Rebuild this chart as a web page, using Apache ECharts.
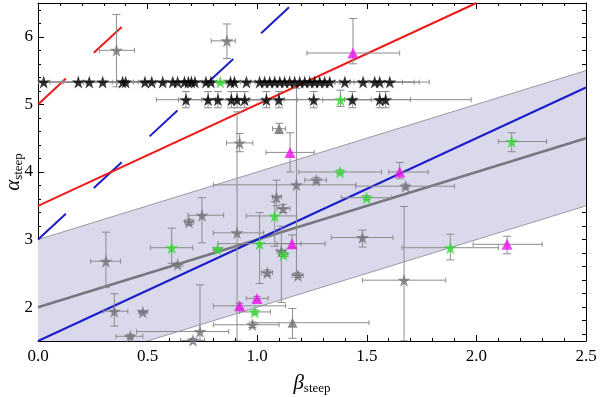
<!DOCTYPE html>
<html>
<head>
<meta charset="utf-8">
<script src="https://cdn.jsdelivr.net/npm/echarts@6/dist/echarts.min.js"></script>
<style>
  html, body { margin: 0; padding: 0; background: #fff; }
  #chart { width: 600px; height: 397px; }
</style>
</head>
<body>
<div id="chart"></div>
<script>
// every point: [x, y, xLow, xHigh, yLow, yHigh]
var grayStars = [
  [0.358, 5.80, 0.28, 0.44, 5.26, 6.33],
  [0.862, 5.94, 0.79, 0.90, 5.68, 6.19],
  [0.920, 4.43, 0.86, 0.98, 4.30, 4.57],
  [1.270, 3.88, 1.217, 1.316, 3.84, 3.92],
  [1.179, 3.81, 0.80, 1.45, 2.50, 5.24],
  [1.677, 3.79, 1.45, 1.90, 3.76, 3.82],
  [1.088, 3.63, 1.07, 1.11, 3.50, 3.88],
  [1.118, 3.46, 1.09, 1.15, 3.40, 3.52],
  [0.748, 3.36, 0.684, 0.847, 2.95, 3.62],
  [0.689, 3.26, 0.67, 0.71, 3.22, 3.30],
  [0.908, 3.10, 0.80, 1.03, 1.50, 4.89],
  [1.480, 3.03, 1.338, 1.62, 2.89, 3.14],
  [0.310, 2.68, 0.24, 0.376, 2.29, 3.11],
  [0.637, 2.63, 0.61, 0.66, 2.60, 2.66],
  [1.110, 2.83, 1.09, 1.13, 2.07, 3.20],
  [1.046, 2.51, 1.02, 1.07, 2.47, 2.55],
  [1.186, 2.47, 1.16, 1.21, 2.44, 2.51],
  [1.670, 2.40, 1.48, 1.86, 1.50, 3.49],
  [0.348, 1.94, 0.30, 0.41, 1.72, 2.20],
  [0.478, 1.93, 0.46, 0.50, 1.91, 1.95],
  [0.421, 1.57, 0.356, 0.478, 1.54, 1.60],
  [0.739, 1.64, 0.45, 0.87, 1.50, 2.33],
  [0.978, 1.74, 0.80, 1.10, 1.70, 1.78],
  [0.707, 1.51, 0.65, 0.76, 1.48, 1.54]
];
var grayTriangles = [
  [1.100, 4.64, 1.07, 1.13, 4.57, 4.72],
  [1.161, 1.77, 0.98, 1.51, 1.54, 1.98]
];
var greenStars = [
  [0.832, 5.33, 0.80, 0.86, 5.33, 5.33],
  [1.380, 5.07, 1.24, 1.52, 4.97, 5.21],
  [0.610, 2.88, 0.513, 0.706, 2.65, 3.17],
  [0.820, 2.86, 0.80, 0.84, 2.84, 2.88],
  [1.011, 2.94, 0.82, 1.31, 2.35, 3.40],
  [1.080, 3.35, 0.95, 1.18, 2.90, 3.56],
  [1.120, 2.78, 1.10, 1.14, 2.75, 2.81],
  [0.989, 1.93, 0.92, 1.06, 1.90, 1.96],
  [1.378, 4.00, 1.19, 1.567, 3.97, 4.03],
  [1.499, 3.62, 1.384, 1.612, 3.59, 3.65],
  [1.881, 2.88, 1.66, 2.10, 2.70, 3.08],
  [2.161, 4.45, 2.10, 2.32, 4.30, 4.58]
];
var magentaTriangles = [
  [1.437, 5.76, 1.227, 1.65, 5.60, 6.27],
  [1.150, 4.29, 1.04, 1.26, 4.00, 4.58],
  [1.650, 4.00, 1.60, 1.78, 3.90, 4.14],
  [1.159, 2.94, 1.09, 1.20, 2.88, 3.07],
  [0.999, 2.13, 0.95, 1.05, 2.10, 2.16],
  [0.920, 2.02, 0.80, 1.13, 1.98, 2.06],
  [2.140, 2.93, 1.985, 2.30, 2.79, 3.05]
];
// two rows of black stars
var blackTopY = 5.33;
var blackTopX = [0.026, 0.184, 0.234, 0.295, 0.386, 0.40, 0.488, 0.519, 0.569, 0.615,
  0.637, 0.668, 0.686, 0.70, 0.716, 0.766, 0.789, 0.878, 0.896, 0.951, 1.011, 1.034,
  1.057, 1.080, 1.103, 1.125, 1.148, 1.171, 1.194, 1.217, 1.24, 1.262, 1.285, 1.308,
  1.331, 1.40, 1.483, 1.536, 1.559, 1.605];
var blackTopErr = 0.18;
var blackLowY = 5.07;
var blackLowX = [0.675, 0.776, 0.821, 0.882, 0.908, 0.943, 1.042, 1.099, 1.258, 1.434, 1.559, 1.586];
var blackLowXErr = [0.135, 0.14, 0.14, 0.14, 0.14, 0.14, 0.14, 0.14, 0.14, 0.14, 0.14, 0.39];
var blackLowYErr = 0.12;

// band [x, lower, upper] and lines
var band = [[0, 1.0, 3.0], [2.5, 3.5, 5.5]];
var grayFit = [[0, 2.0], [2.5, 4.5]];
var blueLine = [[0, 1.5], [2.5, 5.25]];
var blueDashed = [[0, 3.0], [1.1667, 6.5]];
var redLine = [[0, 3.5], [2.0, 6.5]];
var redDashed = [[0, 5.0], [0.5, 6.5]];

// y ticks
var yLabels = [2, 3, 4, 5, 6];
var yMinor = [1.6, 1.8, 2.2, 2.4, 2.6, 2.8, 3.2, 3.4, 3.6, 3.8, 4.2, 4.4, 4.6, 4.8,
  5.2, 5.4, 5.6, 5.8, 6.2, 6.4];

var STAR = 'path://M50,0 L61,35 L98,35 L68,57 L79,91 L50,70 L21,91 L32,57 L2,35 L39,35 Z';
var SERIF = '"Liberation Serif", "DejaVu Serif", serif';

var blackTop = blackTopX.map(function (x) {
  return [x, blackTopY, x - blackTopErr, x + blackTopErr, blackTopY, blackTopY];
});
var blackLow = blackLowX.map(function (x, i) {
  return [x, blackLowY, x - 0.135, x + blackLowXErr[i], blackLowY - blackLowYErr, blackLowY + blackLowYErr];
});
var allErr = [].concat(blackTop, blackLow, grayStars, grayTriangles, greenStars, magentaTriangles);

function errorItem(params, api) {
  var x = api.value(0), y = api.value(1);
  var c = api.coord([x, y]);
  var l = api.coord([api.value(2), y]);
  var r = api.coord([api.value(3), y]);
  var lo = api.coord([x, api.value(4)]);
  var hi = api.coord([x, api.value(5)]);
  var st = { stroke: '#8c8c8c', lineWidth: 1 };
  var kids = [];
  if (r[0] - l[0] > 1) {
    kids.push({ type: 'line', shape: { x1: l[0], y1: c[1], x2: r[0], y2: c[1] }, style: st });
    kids.push({ type: 'line', shape: { x1: l[0], y1: c[1] - 2.5, x2: l[0], y2: c[1] + 2.5 }, style: st });
    kids.push({ type: 'line', shape: { x1: r[0], y1: c[1] - 2.5, x2: r[0], y2: c[1] + 2.5 }, style: st });
  }
  if (lo[1] - hi[1] > 1) {
    kids.push({ type: 'line', shape: { x1: c[0], y1: lo[1], x2: c[0], y2: hi[1] }, style: st });
    kids.push({ type: 'line', shape: { x1: c[0] - 4, y1: lo[1], x2: c[0] + 4, y2: lo[1] }, style: st });
    kids.push({ type: 'line', shape: { x1: c[0] - 4, y1: hi[1], x2: c[0] + 4, y2: hi[1] }, style: st });
  }
  return { type: 'group', children: kids };
}

function bandItem(params, api) {
  var p0 = api.coord([api.value(0), api.value(1)]);
  var p1 = api.coord([api.value(3), api.value(4)]);
  var p2 = api.coord([api.value(3), api.value(5)]);
  var p3 = api.coord([api.value(0), api.value(2)]);
  var edge = { stroke: '#9a9aa6', lineWidth: 1 };
  return {
    type: 'group',
    children: [
      { type: 'polygon', shape: { points: [p0, p1, p2, p3] }, style: { fill: '#d9d9eb' } },
      { type: 'line', shape: { x1: p0[0], y1: p0[1], x2: p1[0], y2: p1[1] }, style: edge },
      { type: 'line', shape: { x1: p3[0], y1: p3[1], x2: p2[0], y2: p2[1] }, style: edge }
    ]
  };
}

function lineSeries(data, color, width, type) {
  return {
    type: 'line', data: data, showSymbol: false, clip: true, z: 3,
    lineStyle: { color: color, width: width, type: type || 'solid' },
    silent: true
  };
}

function pts(arr) { return arr.map(function (d) { return [d[0], d[1]]; }); }

var tickStyle = { color: '#000', width: 1 };
var nameRich = {
  g: { fontFamily: SERIF, fontStyle: 'italic', fontSize: 21, color: '#000', lineHeight: 24 },
  s: { fontFamily: SERIF, fontSize: 13, color: '#000', verticalAlign: 'bottom', lineHeight: 14 }
};
function xAx(pos, labels) {
  return {
    type: 'value', min: 0, max: 2.5, interval: 0.5, position: pos,
    axisLine: { show: true, onZero: false, lineStyle: tickStyle },
    axisTick: { show: true, inside: true, length: 6, lineStyle: tickStyle },
    minorTick: { show: true, splitNumber: 5, length: 3, lineStyle: tickStyle },
    splitLine: { show: false },
    axisLabel: {
      show: labels, formatter: function (v) { return v.toFixed(1); },
      fontFamily: SERIF, fontSize: 17, color: '#000', margin: 7
    },
    name: labels ? '{g|β}{s|steep}' : '',
    nameLocation: 'middle', nameGap: 30,
    nameTextStyle: { rich: nameRich }
  };
}
function yAx(pos, labels, ticks, len, line) {
  return {
    type: 'value', min: 1.5, max: 6.5, position: pos,
    axisLine: { show: line, onZero: false, lineStyle: tickStyle },
    axisTick: { show: true, inside: true, length: len, customValues: ticks, lineStyle: tickStyle },
    splitLine: { show: false },
    axisLabel: {
      show: labels, customValues: yLabels,
      fontFamily: SERIF, fontSize: 17, color: '#000', margin: 5
    }
  };
}

var chart = echarts.init(document.getElementById('chart'), null, { renderer: 'canvas' });
chart.setOption({
  animation: false,
  backgroundColor: '#fff',
  grid: { left: 38, right: 14, top: 3, bottom: 56, containLabel: false, outerBoundsMode: 'none' },
  xAxis: [xAx('bottom', true), xAx('top', false)],
  yAxis: [
    yAx('left', true, yLabels, 6, true),
    yAx('right', false, yMinor.concat(yLabels), 4, true),
    yAx('left', false, yMinor, 3, false)
  ],
  // y axis title, rotated
  graphic: [{
    type: 'text', x: 13, y: 172, rotation: Math.PI / 2, silent: true,
    style: { text: '{g|α}{s|steep}', rich: nameRich, align: 'center', verticalAlign: 'middle' }
  }],
  series: [
    {
      type: 'custom', renderItem: bandItem, clip: true, z: 1, silent: true,
      data: [[band[0][0], band[0][1], band[0][2], band[1][0], band[1][1], band[1][2]]]
    },
    lineSeries(grayFit, '#77777f', 2.5),
    lineSeries(blueLine, '#1c1ccc', 2),
    lineSeries(blueDashed, '#1c1ccc', 2, [38, 38]),
    lineSeries(redLine, '#ee1a1a', 2),
    lineSeries(redDashed, '#ee1a1a', 2, [38, 38]),
    {
      type: 'custom', renderItem: errorItem, clip: true, z: 4, silent: true,
      data: allErr
    },
    { type: 'scatter', symbol: STAR, symbolSize: 13, z: 5, itemStyle: { color: '#000' }, data: pts(blackTop.concat(blackLow)) },
    { type: 'scatter', symbol: STAR, symbolSize: 13, z: 5, itemStyle: { color: '#73737c' }, data: pts(grayStars) },
    { type: 'scatter', symbol: 'triangle', symbolSize: 10, z: 5, itemStyle: { color: '#73737c' }, data: pts(grayTriangles) },
    { type: 'scatter', symbol: STAR, symbolSize: 13, z: 6, itemStyle: { color: '#2fdc2f' }, data: pts(greenStars) },
    { type: 'scatter', symbol: 'triangle', symbolSize: 11, z: 6, itemStyle: { color: '#ee10ee' }, data: pts(magentaTriangles) }
  ]
});
</script>
</body>
</html>
